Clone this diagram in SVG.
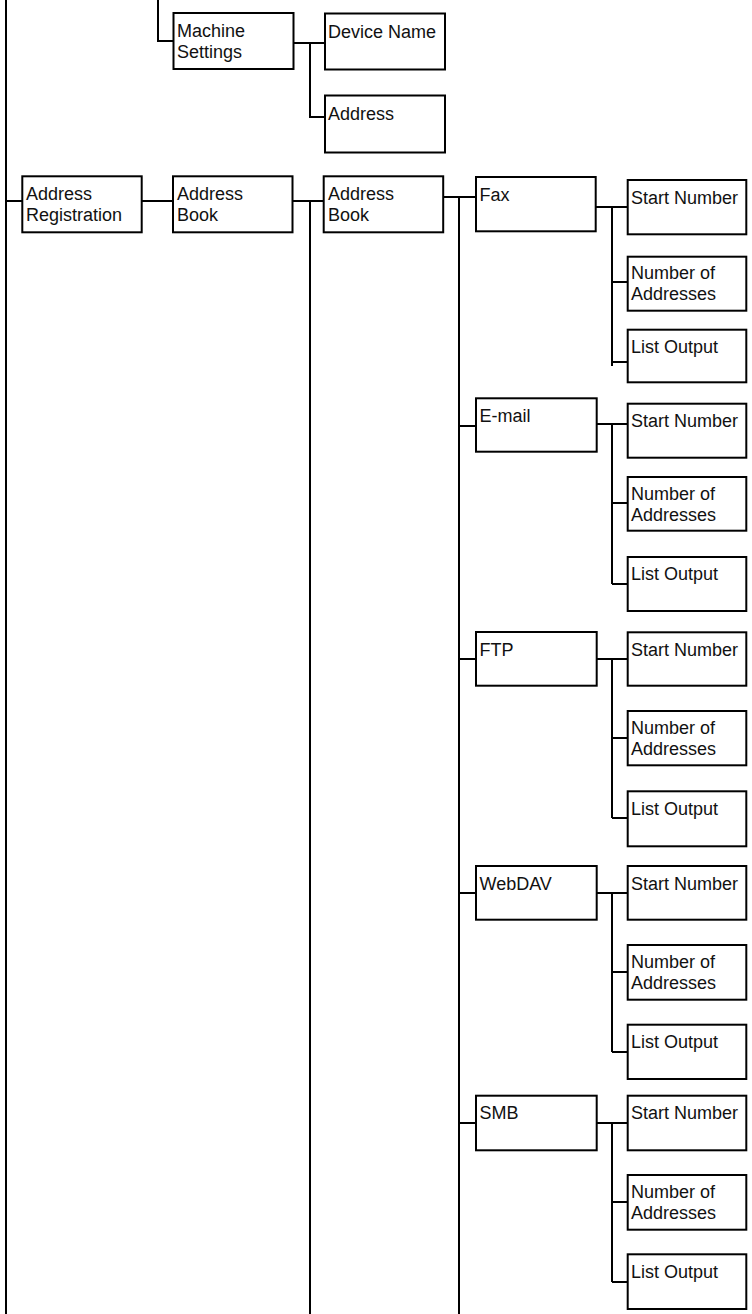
<svg xmlns="http://www.w3.org/2000/svg" width="752" height="1314" viewBox="0 0 752 1314">
<style>
rect.b{fill:#fff;stroke:#000;stroke-width:2}
text{font-family:"Liberation Sans",Arial,sans-serif;font-size:18px;fill:#111}
#connectors path{fill:none;stroke:#000;stroke-width:2}
</style>
<rect width="752" height="1314" fill="#fff"/>
<g id="connectors">
<path d="M6 0V1314M6 201H22"/>
<path d="M158 0V41H173"/>
<path d="M294 43H325M310 43V117H325"/>
<path d="M142 201H173"/>
<path d="M293 201H324M310 201V1314"/>
<path d="M444 197H476M459 197V1314"/>
<path d="M459 426H476M459 659H476M459 893H476M459 1123H476"/>
<path d="M596 207H628M612 207V366M612 282H628M612 362H628"/>
<path d="M596 424H628M612 424V584M612 503H628M612 584H628"/>
<path d="M596 659H628M612 659V818M612 738H628M612 818H628"/>
<path d="M596 893H628M612 893V1052M612 972H628M612 1052H628"/>
<path d="M596 1123H628M612 1123V1282M612 1202H628M612 1282H628"/>
</g>
<g id="machine-settings"><rect class="b" x="173.5" y="13" width="120" height="56"/><text x="177" y="37">Machine</text><text x="177" y="57.5">Settings</text></g>
<g id="device-name"><rect class="b" x="325" y="13.5" width="120" height="56"/><text x="328" y="37.5">Device Name</text></g>
<g id="address"><rect class="b" x="325" y="95.5" width="120" height="57"/><text x="328" y="120">Address</text></g>
<g id="address-registration"><rect class="b" x="22.3" y="176.3" width="119.4" height="56"/><text x="26" y="200">Address</text><text x="26" y="220.5">Registration</text></g>
<g id="address-book-1"><rect class="b" x="173" y="176.3" width="119.5" height="56"/><text x="177" y="200">Address</text><text x="177" y="220.5">Book</text></g>
<g id="address-book-2"><rect class="b" x="323.7" y="176.3" width="119.5" height="56"/><text x="328" y="200">Address</text><text x="328" y="220.5">Book</text></g>

<g id="fax"><rect class="b" x="476" y="177" width="119.7" height="54.3"/><text x="479.5" y="200.5">Fax</text></g>
<g id="fax-start"><rect class="b" x="627.7" y="180" width="118.6" height="54.3"/><text x="631" y="203.5">Start Number</text></g>
<g id="fax-num"><rect class="b" x="627.7" y="256.7" width="118.6" height="54"/><text x="631" y="279">Number of</text><text x="631" y="300">Addresses</text></g>
<g id="fax-list"><rect class="b" x="627.7" y="329.7" width="118.6" height="52.6"/><text x="631" y="353">List Output</text></g>

<g id="email"><rect class="b" x="476" y="398.3" width="120.7" height="53.4"/><text x="479.5" y="421.5">E-mail</text></g>
<g id="email-start"><rect class="b" x="627.7" y="403.7" width="118.6" height="54"/><text x="631" y="427">Start Number</text></g>
<g id="email-num"><rect class="b" x="627.7" y="477" width="118.6" height="53.7"/><text x="631" y="500">Number of</text><text x="631" y="521">Addresses</text></g>
<g id="email-list"><rect class="b" x="627.7" y="557" width="118.6" height="54"/><text x="631" y="580">List Output</text></g>

<g id="ftp"><rect class="b" x="476" y="632" width="120.7" height="53.7"/><text x="479.5" y="655.5">FTP</text></g>
<g id="ftp-start"><rect class="b" x="627.7" y="632.3" width="118.6" height="53.4"/><text x="631" y="655.5">Start Number</text></g>
<g id="ftp-num"><rect class="b" x="627.7" y="711" width="118.6" height="54.3"/><text x="631" y="734">Number of</text><text x="631" y="755">Addresses</text></g>
<g id="ftp-list"><rect class="b" x="627.7" y="791.3" width="118.6" height="55"/><text x="631" y="814.5">List Output</text></g>

<g id="webdav"><rect class="b" x="476" y="866" width="120.7" height="53.7"/><text x="479.5" y="889.5">WebDAV</text></g>
<g id="webdav-start"><rect class="b" x="627.7" y="866" width="118.6" height="53.7"/><text x="631" y="889.5">Start Number</text></g>
<g id="webdav-num"><rect class="b" x="627.7" y="945" width="118.6" height="54.7"/><text x="631" y="968">Number of</text><text x="631" y="989">Addresses</text></g>
<g id="webdav-list"><rect class="b" x="627.7" y="1024.7" width="118.6" height="54.3"/><text x="631" y="1048">List Output</text></g>

<g id="smb"><rect class="b" x="476" y="1095.7" width="120.7" height="54.6"/><text x="479.5" y="1119">SMB</text></g>
<g id="smb-start"><rect class="b" x="627.7" y="1095.7" width="118.6" height="54.6"/><text x="631" y="1119">Start Number</text></g>
<g id="smb-num"><rect class="b" x="627.7" y="1175" width="118.6" height="54.7"/><text x="631" y="1198">Number of</text><text x="631" y="1219">Addresses</text></g>
<g id="smb-list"><rect class="b" x="627.7" y="1254.3" width="118.6" height="54.7"/><text x="631" y="1277.5">List Output</text></g>
</svg>
